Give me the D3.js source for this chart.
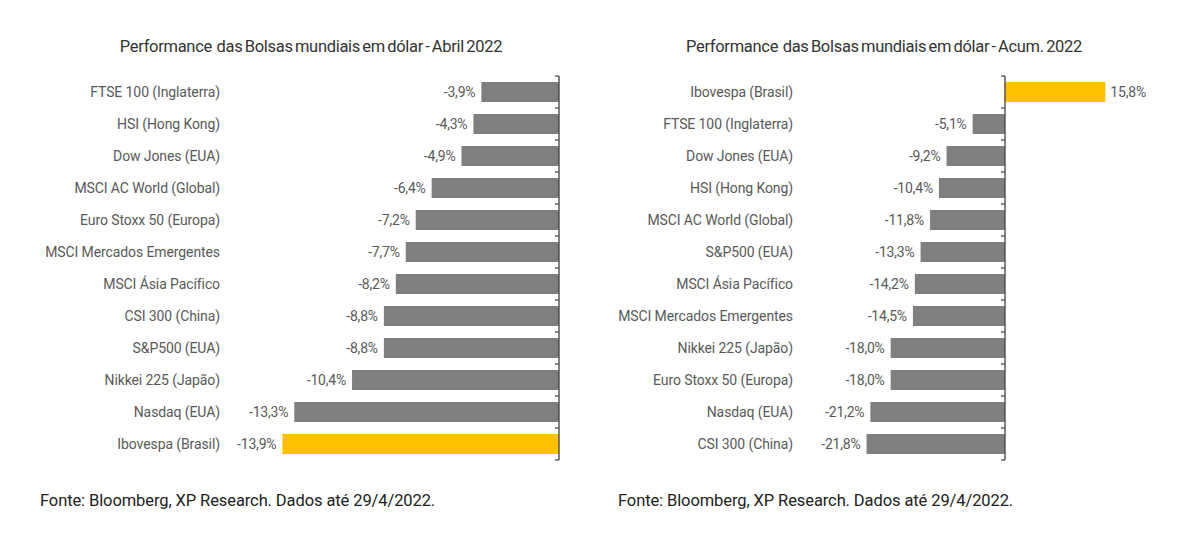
<!DOCTYPE html>
<html>
<head>
<meta charset="utf-8">
<script src="https://cdn.jsdelivr.net/npm/d3@7"></script>
<style>
  body { margin: 0; background: #fff; }
  svg text { font-family: Roboto, "Noto Sans", sans-serif; white-space: pre; }
</style>
</head>
<body>
<div id="container"></div>
<script>
/* DATA */
const abrilNames = ["FTSE 100 (Inglaterra)", "HSI (Hong Kong)", "Dow Jones (EUA)", "MSCI AC World (Global)",
  "Euro Stoxx 50 (Europa)", "MSCI Mercados Emergentes", "MSCI Ásia Pacífico", "CSI 300 (China)",
  "S&P500 (EUA)", "Nikkei 225 (Japão)", "Nasdaq (EUA)", "Ibovespa (Brasil)"];
const abrilValues = [-3.9, -4.3, -4.9, -6.4, -7.2, -7.7, -8.2, -8.8, -8.8, -10.4, -13.3, -13.9];

const acumNames = ["Ibovespa (Brasil)", "FTSE 100 (Inglaterra)", "Dow Jones (EUA)", "HSI (Hong Kong)",
  "MSCI AC World (Global)", "S&P500 (EUA)", "MSCI Ásia Pacífico", "MSCI Mercados Emergentes",
  "Nikkei 225 (Japão)", "Euro Stoxx 50 (Europa)", "Nasdaq (EUA)", "CSI 300 (China)"];
const acumValues = [15.8, -5.1, -9.2, -10.4, -11.8, -13.3, -14.2, -14.5, -18.0, -18.0, -21.2, -21.8];

const titles = ["Performance  das Bolsas mundiais em dólar - Abril 2022",
  "Performance  das Bolsas mundiais em dólar - Acum. 2022"];
const fonte = "Fonte: Bloomberg, XP Research. Dados até 29/4/2022.";

/* CONSTANTS */
const width = 1186;
const height = 544;
const highlight = "Ibovespa (Brasil)";

const svg = d3.select("#container")
  .append("svg")
  .attr("width", width)
  .attr("height", height)

// hyphen minus and decimal comma, as in the original
const fmt = v => (v < 0 ? "-" : "") + d3.format(".1f")(Math.abs(v)).replace(".", ",") + "%";

function drawChart(names, values, opts) {
  const data = names.map((n, i) => ({ name: n, value: values[i] }));

  const xScale = d3.scaleLinear()
    .domain(opts.domain)
    .range(opts.range)

  const yScale = d3.scaleBand()
    .domain(names)
    .range([76, 460])
    .paddingInner(0.375)
    .paddingOuter(0.1875)

  const g = svg.append("g")

  // title
  g.append("text")
    .attr("x", opts.titleX)
    .attr("y", 52)
    .attr("text-anchor", "middle")
    .attr("font-size", 16.5)
    .attr("letter-spacing", -0.3)
    .attr("word-spacing", -1.5)
    .attr("fill", "#333")
    .text(opts.title)

  // bars
  g.selectAll("rect.bar")
    .data(data)
    .join("rect")
    .attr("class", "bar")
    .attr("x", d => xScale(Math.min(0, d.value)))
    .attr("y", d => yScale(d.name))
    .attr("width", d => Math.abs(xScale(d.value) - xScale(0)))
    .attr("height", yScale.bandwidth())
    .attr("fill", d => d.name === highlight ? "#ffc000" : "#7f7f7f")

  // value labels
  g.selectAll("text.val")
    .data(data)
    .join("text")
    .attr("class", "val")
    .attr("x", d => d.value < 0 ? xScale(d.value) - 6 : xScale(d.value) + 5)
    .attr("y", d => yScale(d.name) + yScale.bandwidth() / 2)
    .attr("dy", "0.35em")
    .attr("text-anchor", d => d.value < 0 ? "end" : "start")
    .attr("font-size", 14)
    .attr("letter-spacing", -0.2)
    .attr("fill", "#595959")
    .text(d => fmt(d.value))

  // category labels
  g.selectAll("text.cat")
    .data(data)
    .join("text")
    .attr("class", "cat")
    .attr("x", opts.labelX)
    .attr("y", d => yScale(d.name) + yScale.bandwidth() / 2)
    .attr("dy", "0.35em")
    .attr("text-anchor", "end")
    .attr("font-size", 14)
    .attr("letter-spacing", -0.1)
    .attr("fill", "#595959")
    .text(d => d.name)

  // zero axis with ticks between categories
  const x0 = xScale(0);
  const ticks = d3.range(names.length + 1).map(i => 76 + i * yScale.step());
  g.append("line")
    .attr("x1", x0).attr("x2", x0)
    .attr("y1", 76).attr("y2", 460)
    .attr("stroke", "#404040")
    .attr("stroke-width", 1.3)
  g.selectAll("line.tick")
    .data(ticks)
    .join("line")
    .attr("class", "tick")
    .attr("x1", x0 - 4).attr("x2", x0)
    .attr("y1", d => d).attr("y2", d => d)
    .attr("stroke", "#404040")
    .attr("stroke-width", 1.2)

  // source
  g.append("text")
    .attr("x", opts.fonteX)
    .attr("y", 506)
    .attr("font-size", 16.5)
    .attr("letter-spacing", -0.1)
    .attr("fill", "#222")
    .text(fonte)
}

drawChart(abrilNames, abrilValues, {
  domain: [-14, 0], range: [280.4, 559],
  labelX: 220, titleX: 311, fonteX: 40, title: titles[0]
});

drawChart(acumNames, acumValues, {
  domain: [-22, 16], range: [865.3, 1106.6],
  labelX: 793, titleX: 884, fonteX: 618, title: titles[1]
});
</script>
</body>
</html>
